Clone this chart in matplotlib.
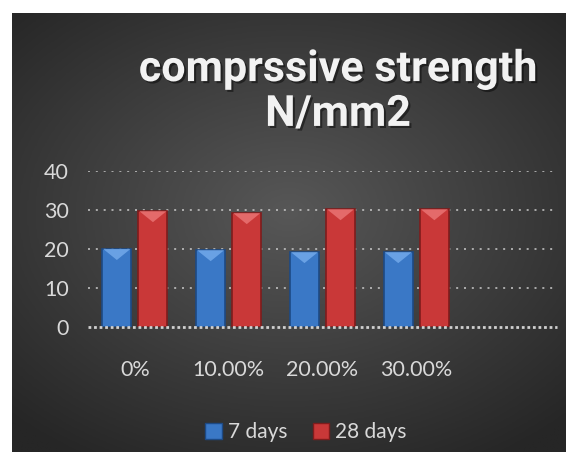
import numpy as np
import matplotlib
matplotlib.use('Agg')
import matplotlib.pyplot as plt
import matplotlib.patheffects as pe
from matplotlib.patches import Polygon, Patch

# data
categories = ['0%', '10.00%', '20.00%', '30.00%', '']
days7 = [20.0, 19.7, 19.2, 19.2, np.nan]
days28 = [29.7, 29.2, 30.2, 30.2, np.nan]
series_names = ['7 days', '28 days']
yticks = [0, 10, 20, 30, 40]

txt_col = '#d9d9d9'
blue, blue_dark, blue_light = '#3a78c6', '#1d4a85', '#72a9ea'
red, red_dark, red_light = '#c93838', '#7f1c1c', '#e97373'

fig = plt.figure(figsize=(5.75, 4.63), dpi=100)
fig.patch.set_facecolor('white')

# dark panel with radial gradient
bg = fig.add_axes([12/575, 1 - 452/463, (566-12)/575, (452-13)/463])
yy, xx = np.mgrid[-1:1:300j, -1:1:400j]
r = np.sqrt(xx**2 + (yy*1.1 + 0.1)**2)
grad = np.clip(1 - r/1.45, 0, 1)
bg.imshow(grad, cmap=matplotlib.colors.LinearSegmentedColormap.from_list('g', ['#262626', '#575757']),
          aspect='auto', extent=[0, 1, 0, 1], interpolation='bilinear')
bg.set_axis_off()

ax = fig.add_axes([88/575, 1 - 327/463, (557-88)/575, (327-171)/463])
ax.set_facecolor('none')

x = np.arange(len(categories))
w = 0.31
gap = 0.075
pos7 = x - (w + gap)/2
pos28 = x + (w + gap)/2

# pixels per data unit, for the bevel highlight
px_y = (327 - 171) / 40

def bevel_bars(pos, vals, face, dark, light):
    bars = ax.bar(pos, vals, width=w, color=face, edgecolor=dark, linewidth=1.2, zorder=3)
    for b in bars:
        h = b.get_height()
        if np.isnan(h):
            continue
        x0 = b.get_x()
        x1 = x0 + b.get_width()
        xc = x0 + b.get_width()/2
        dy = 11 / px_y
        tri = Polygon([[x0 + 0.01, h], [x1 - 0.01, h], [xc, h - dy]],
                      closed=True, facecolor=light, edgecolor='none', zorder=4, alpha=0.85)
        ax.add_patch(tri)
    return bars

bevel_bars(pos7, days7, blue, blue_dark, blue_light)
bevel_bars(pos28, days28, red, red_dark, red_light)

ax.set_xlim(-0.5, len(categories) - 0.5)
ax.set_ylim(0, 40)
ax.set_yticks(yticks)
ax.set_xticks(x)
ax.set_xticklabels(categories)
for t in yticks[1:]:
    ax.axhline(t, color='#bfbfbf', linestyle=(0, (1.2, 3.5)), linewidth=1.2, zorder=1)
ax.axhline(0, color='#d0d0d0', linestyle=(0, (1, 1)), linewidth=2, zorder=5, clip_on=False)
for s in ax.spines.values():
    s.set_visible(False)
ax.tick_params(length=0, colors=txt_col, labelsize=15.5)
ax.tick_params(axis='y', pad=14)
ax.tick_params(axis='x', pad=24)
for lab in ax.get_xticklabels() + ax.get_yticklabels():
    lab.set_fontfamily(['Lato', 'DejaVu Sans'])

fig.text(338/575, 1 - 92/463, 'comprssive strength\nN/mm2', ha='center', va='center',
         fontsize=31, fontweight='bold', color='#f2f2f2', linespacing=1.12,
         family=['Roboto', 'DejaVu Sans'],
         path_effects=[pe.withSimplePatchShadow(offset=(1.5, -1.5), shadow_rgbFace='black', alpha=0.45)])

handles = [Patch(facecolor=blue, edgecolor=blue_dark), Patch(facecolor=red, edgecolor=red_dark)]
leg = fig.legend(handles, series_names, loc='center', bbox_to_anchor=(306/575, 1 - 432/463),
                 ncol=2, frameon=False, handlelength=0.8, handleheight=0.8,
                 handletextpad=0.3, columnspacing=1.2, prop={'family': ['Lato', 'DejaVu Sans'], 'size': 15})
for t in leg.get_texts():
    t.set_color(txt_col)

fig.savefig('out.png', dpi=100, facecolor='white')
